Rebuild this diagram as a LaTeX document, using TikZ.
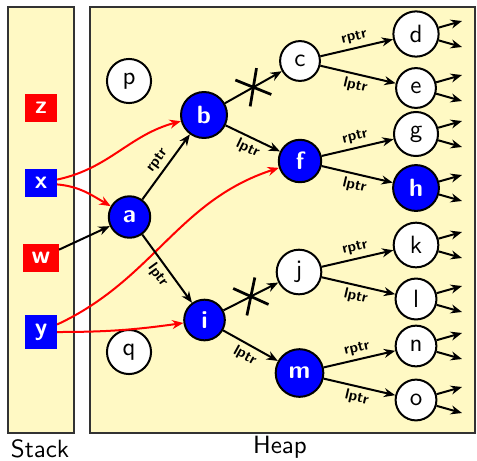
\documentclass[tikz,border=0pt]{standalone}
\usetikzlibrary{arrows.meta,shapes.misc}
\renewcommand{\familydefault}{\sfdefault}
\definecolor{heapyellow}{RGB}{255,249,196}

\begin{document}
\begin{tikzpicture}[x=0.4pt,y=-0.4pt,
    >={Stealth[length=4.5pt,width=3.6pt]},
    area/.style={draw=black!80,line width=0.7pt,fill=heapyellow},
    var/.style={rectangle,text=white,font=\bfseries,inner sep=3.3pt,minimum width=12.5pt},
    live/.style={circle,draw=black,thick,fill=blue,text=white,font=\bfseries},
    dead/.style={circle,draw=black,thick,fill=white},
    edge/.style={->,thick},
    ref/.style={->,thick,red},
    lab/.style={sloped,font=\fontsize{6}{7}\selectfont\bfseries,inner sep=1.5pt},
    cut/.style={sloped,draw,cross out,line width=1.1pt,minimum width=8.6pt,minimum height=11pt,inner sep=0pt}]
  \useasboundingbox (0,0) rectangle (477,460);

  \coordinate (Z) at (41,108);
  \coordinate (X) at (41,183);
  \coordinate (W) at (41,258);
  \coordinate (Y) at (41,332);

  \coordinate (P) at (129,81);
  \coordinate (Q) at (129,352);
  \coordinate (A) at (129.5,217);
  \coordinate (B) at (204,115);
  \coordinate (I) at (204.5,320);
  \coordinate (C) at (300,61);
  \coordinate (F) at (300,161);
  \coordinate (J) at (299,272);
  \coordinate (M) at (299.5,373);

  % stack and heap
  \draw[area] (8,7) rectangle (74,433);
  \draw[area] (90,7) rectangle (475,433);
  \node (stack) at (40,449) {Stack};
  \node (heap) at (280,447) {Heap};

  \node[var,fill=red] (z) at (Z) {z};
  \node[var,fill=blue] (x) at (X) {x};
  \node[var,fill=red] (w) at (W) {w};
  \node[var,fill=blue] (y) at (Y) {y};

  \node[dead] (p) at (P) {p};
  \node[dead] (q) at (Q) {q};
  \node[live] (a) at (A) {a};
  \node[live] (b) at (B) {b};
  \node[live] (i) at (I) {i};
  \node[dead] (c) at (C) {c};
  \node[live] (f) at (F) {f};
  \node[dead] (j) at (J) {j};
  \node[live] (m) at (M) {m};

  \node[dead] (d) at (416,34) {d};
  \node[dead] (e) at (416,88) {e};
  \node[live,fill=white,text=black,font=\normalfont] (g) at (416,134) {g};
  \node[live] (h) at (416,188) {h};
  \node[dead] (k) at (416,245) {k};
  \node[dead] (l) at (416,299) {l};
  \node[dead] (n) at (416,346) {n};
  \node[dead] (o) at (416,400) {o};

  % pointers from the stack
  \draw[ref] (x) to[out=12,in=195] (b);
  \draw[ref] (x) to[out=-5,in=150] (a);
  \draw[edge] (w) -- (a);
  \draw[ref] (y) to[out=25,in=198] (f);
  \draw[ref] (y) to[out=0,in=188] (i);

  % the tree
  \draw[edge] (a) -- node[lab,above] {rptr} (b);
  \draw[edge] (a) -- node[lab,below] {lptr} (i);
  \draw[edge] (b) -- node[cut] {} (c);
  \draw[edge] (b) -- node[lab,below] {lptr} (f);
  \draw[edge] (i) -- node[cut] {} (j);
  \draw[edge] (i) -- node[lab,below] {lptr} (m);
  \draw[edge] (c) -- node[lab,above] {rptr} (d);
  \draw[edge] (c) -- node[lab,below] {lptr} (e);
  \draw[edge] (f) -- node[lab,above] {rptr} (g);
  \draw[edge] (f) -- node[lab,below] {lptr} (h);
  \draw[edge] (j) -- node[lab,above] {rptr} (k);
  \draw[edge] (j) -- node[lab,below] {lptr} (l);
  \draw[edge] (m) -- node[lab,above] {rptr} (n);
  \draw[edge] (m) -- node[lab,below] {lptr} (o);

  \foreach \n in {d,e,g,h,k,l,n,o} {
    \coordinate (\n-up) at ([shift={(46,-13)}]\n.center);
    \coordinate (\n-dn) at ([shift={(46,13)}]\n.center);
    \draw[edge] (\n) -- (\n-up);
    \draw[edge] (\n) -- (\n-dn);
  }
\end{tikzpicture}
\end{document}
